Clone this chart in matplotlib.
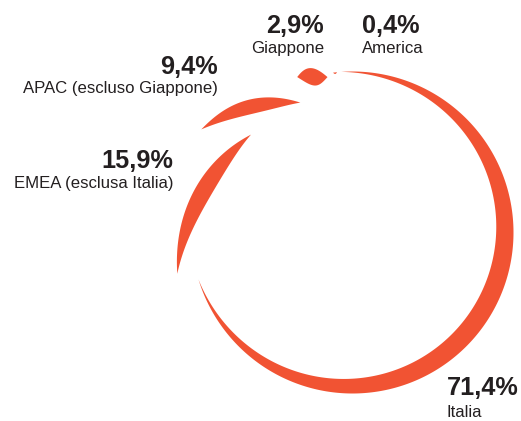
import numpy as np
import matplotlib.pyplot as plt

# Revenue split by geographic area (percent of total)
regions = ["America", "Giappone", "APAC (escluso Giappone)", "EMEA (esclusa Italia)", "Italia"]
shares = [0.4, 2.9, 9.4, 15.9, 71.4]
share_labels = ["0,4%", "2,9%", "9,4%", "15,9%", "71,4%"]

ACCENT = "#F15333"
INK = "#231F20"

# Canvas in pixel units (y downwards)
W, H = 521, 421
fig = plt.figure(figsize=(W / 100, H / 100), dpi=100)
ax = fig.add_axes([0, 0, 1, 1])
ax.set_xlim(0, W)
ax.set_ylim(H, 0)
ax.axis("off")

CX, CY = 352.5, 232.5       # ring centre
START = 94.0                # angle where the first slice begins (deg, counter-clockwise)

# Per-slice styling: twist of the slice, radius at its two tips,
# outward bulge of the outer edge and maximum thickness of the crescent
twist = [1.5, 3.7, 6.0, -3.7, 0.0]
tip_r = [(161, 161), (157.4, 165), (140, 183), (141, 180), (161, 161)]
bulge = [0, 8.5, 8, 3, 0]
thick = [1.5, 18, 16, 17.5, 19]

def to_xy(r, ang_deg):
    a = np.radians(ang_deg)
    return CX + r * np.cos(a), CY - r * np.sin(a)

spans = np.array(shares) / sum(shares) * 360.0
starts = START + np.concatenate([[0], np.cumsum(spans)[:-1]])

t = np.linspace(0, 1, 300)
prof = np.sin(np.pi * t)
for i in range(len(regions)):
    a0 = starts[i] + twist[i]
    a1 = a0 + spans[i]
    ang = a0 + (a1 - a0) * t
    base = tip_r[i][0] + (tip_r[i][1] - tip_r[i][0]) * t
    outer = base + bulge[i] * prof
    inner = outer - thick[i] * prof
    xo, yo = to_xy(outer, ang)
    xi, yi = to_xy(inner, ang)
    ax.fill(np.concatenate([xo, xi[::-1]]), np.concatenate([yo, yi[::-1]]),
            color=ACCENT, lw=0, antialiased=True)

# Labels: (x anchor, value baseline, name baseline, alignment)
label_pos = [
    (362, 33, 53, "left"),
    (324, 33, 53, "right"),
    (218, 74, 93, "right"),
    (173, 168, 188, "right"),
    (447, 395, 417, "left"),
]
FONT = "Liberation Sans"
for i, (x, yv, yn, ha) in enumerate(label_pos):
    ax.text(x, yv, share_labels[i], ha=ha, va="baseline", fontsize=18.2,
            fontweight="bold", color=INK, family=FONT)
    ax.text(x, yn, regions[i], ha=ha, va="baseline", fontsize=12.1,
            color=INK, family=FONT)

fig.savefig("out.png", dpi=100)
